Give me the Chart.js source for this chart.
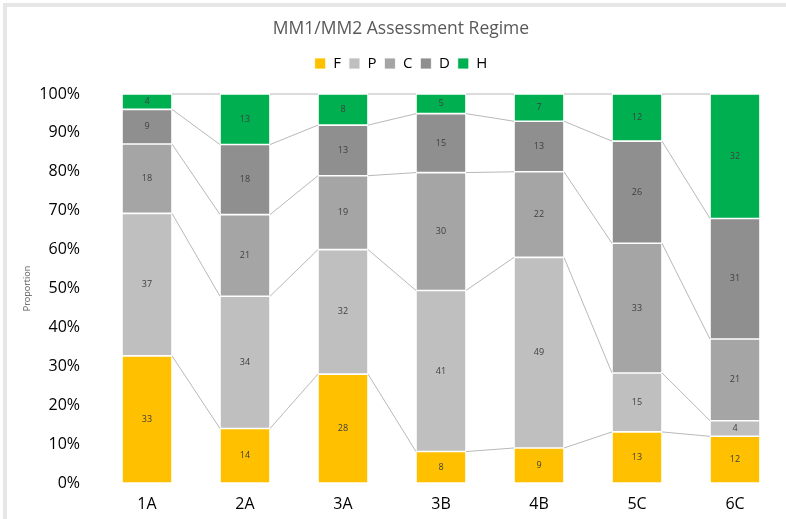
<!DOCTYPE html>
<html>
<head>
<meta charset="utf-8">
<script src="https://cdn.jsdelivr.net/npm/chart.js@4"></script>
<style>
  html, body { margin: 0; padding: 0; background: #fff; }
  #frame { position: absolute; left: 3px; top: 3px; width: 790px; height: 520px;
           border-top: 4px solid #e6e6e6; border-left: 4px solid #e6e6e6; }
  #wrap { position: absolute; left: 0; top: 0; width: 786px; height: 519px; }
</style>
</head>
<body>
<div id="frame"></div>
<div id="wrap"><canvas id="chart"></canvas></div>
<script>
// counts per group
let groups = ["1A", "2A", "3A", "3B", "4B", "5C", "6C"];
let gradeF = [33, 14, 28, 8, 9, 13, 12];
let gradeP = [37, 34, 32, 41, 49, 15, 4];
let gradeC = [18, 21, 19, 30, 22, 33, 21];
let gradeD = [9, 18, 13, 15, 13, 26, 31];
let gradeH = [4, 13, 8, 5, 7, 12, 32];
let yTicks = [0, 10, 20, 30, 40, 50, 60, 70, 80, 90, 100];

let series = [
  { label: "F", counts: gradeF, color: "#FFC000" },
  { label: "P", counts: gradeP, color: "#BFBFBF" },
  { label: "C", counts: gradeC, color: "#A5A5A5" },
  { label: "D", counts: gradeD, color: "#8F8F8F" },
  { label: "H", counts: gradeH, color: "#00B050" }
];

// 100% stacked: turn counts into shares of each group
let totals = groups.map(function (g, i) {
  let s = 0;
  series.forEach(function (ser) { s += ser.counts[i]; });
  return s;
});

let datasets = series.map(function (ser) {
  return {
    label: ser.label,
    counts: ser.counts,
    data: ser.counts.map(function (v, i) { return v * 100 / totals[i]; }),
    backgroundColor: ser.color,
    borderColor: "#ffffff",
    borderWidth: 0.8,
    borderSkipped: false,
    categoryPercentage: 1,
    barPercentage: 0.51
  };
});

// Excel-style series lines between neighbouring bars
let seriesLines = {
  id: "seriesLines",
  beforeDatasetsDraw: function (chart) {
    let ctx = chart.ctx;
    ctx.save();
    ctx.strokeStyle = "#b0b0b0";
    ctx.lineWidth = 0.9;
    chart.data.datasets.forEach(function (ds, d) {
      let bars = chart.getDatasetMeta(d).data;
      for (let i = 0; i < bars.length - 1; i++) {
        let a = bars[i], b = bars[i + 1];
        ctx.beginPath();
        ctx.moveTo(a.x + a.width / 2, a.y);
        ctx.lineTo(b.x - b.width / 2, b.y);
        ctx.stroke();
      }
    });
    ctx.restore();
  }
};

// raw counts written in the middle of each segment
let countLabels = {
  id: "countLabels",
  afterDatasetsDraw: function (chart) {
    let ctx = chart.ctx;
    ctx.save();
    ctx.font = "9px 'Open Sans'";
    ctx.fillStyle = "#404040";
    ctx.textAlign = "center";
    ctx.textBaseline = "middle";
    chart.data.datasets.forEach(function (ds, d) {
      chart.getDatasetMeta(d).data.forEach(function (bar, i) {
        ctx.fillText(ds.counts[i], bar.x, (bar.y + bar.base) / 2);
      });
    });
    ctx.restore();
  }
};

// leave more room under the legend before the plot starts
let legendGap = {
  id: "legendGap",
  afterInit: function (chart) {
    let lg = chart.legend;
    if (!lg) return;
    let fit = lg.fit;
    lg.fit = function () {
      fit.call(this);
      this.height += 13;
    };
  }
};

new Chart(document.getElementById("chart"), {
  type: "bar",
  data: { labels: groups, datasets: datasets },
  plugins: [seriesLines, countLabels, legendGap],
  options: {
    responsive: true,
    maintainAspectRatio: false,
    animation: false,
    layout: { padding: { left: 18, right: 2, top: 0, bottom: 0 } },
    font: { family: "'Open Sans'" },
    plugins: {
      tooltip: { enabled: false },
      title: {
        display: true,
        text: "MM1/MM2 Assessment Regime",
        color: "#595959",
        font: { family: "'Open Sans'", size: 17.5, weight: "normal" },
        padding: { top: 19, bottom: 8 }
      },
      legend: {
        position: "top",
        labels: {
          boxWidth: 11,
          boxHeight: 11,
          padding: 8,
          color: "#000000",
          font: { family: "'Open Sans'", size: 15 }
        }
      }
    },
    scales: {
      x: {
        stacked: true,
        grid: { display: false, drawTicks: false },
        border: { display: false },
        ticks: { color: "#000000", padding: 12, font: { family: "'Open Sans'", size: 16 } },
        afterFit: function (scale) { scale.height = 36; }
      },
      y: {
        stacked: true,
        min: 0,
        max: 100,
        grid: { display: false, drawTicks: false },
        border: { display: false },
        afterBuildTicks: function (scale) {
          scale.ticks = yTicks.map(function (v) { return { value: v }; });
        },
        ticks: {
          color: "#000000",
          padding: 18,
          font: { family: "'Open Sans'", size: 16 },
          callback: function (value) { return value + "%"; }
        },
        title: {
          display: true,
          text: "Proportion",
          color: "#595959",
          font: { family: "'Open Sans'", size: 9 },
          padding: { top: 4 }
        },
        afterFit: function (scale) { scale.width = 80; }
      }
    }
  }
});
</script>
</body>
</html>
